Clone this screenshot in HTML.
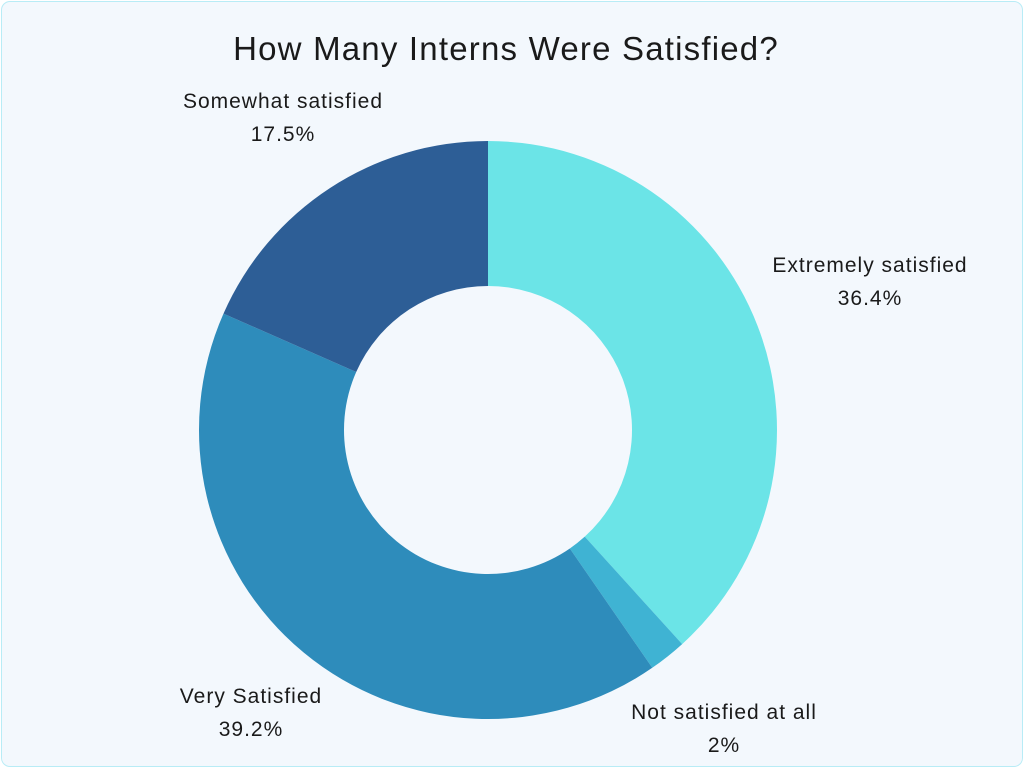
<!DOCTYPE html>
<html><head><meta charset="utf-8"><style>
html,body{margin:0;padding:0;background:#fff}
#card{position:absolute;left:1px;top:1px;width:1020px;height:764px;border:1px solid #b8ecf6;border-radius:9px;background:#f3f8fd;overflow:hidden}
svg{position:absolute;left:0;top:0}
text{font-family:"Liberation Sans",sans-serif;fill:#1a1a1a}
</style></head><body>
<div id="card"></div>
<svg id="chart" width="1024" height="768">
<text x="506" y="60" font-size="33" letter-spacing="1.2" text-anchor="middle">How Many Interns Were Satisfied?</text>
<g id="slices"></g><g id="labels"></g>
</svg>
<script>
const categories=["Extremely satisfied","Not satisfied at all","Very Satisfied","Somewhat satisfied"];
const values=[36.4,2,39.2,17.5];
const valueLabels=["36.4%","2%","39.2%","17.5%"];
const colors=["#6be4e7","#3fb3d3","#2e8cbb","#2d5e96"];
const labelPos=[[870,264],[724,711],[251,695],[283,100]];
const cx=488,cy=430,R=289,r=144;
const ns="http://www.w3.org/2000/svg";
const total=values.reduce((a,b)=>a+b,0);
function pt(a,rad){return [cx+rad*Math.sin(a),cy-rad*Math.cos(a)];}
let acc=0;
const gs=document.getElementById('slices'),gl=document.getElementById('labels');
values.forEach((v,i)=>{
  const a0=acc/total*2*Math.PI;acc+=v;const a1=acc/total*2*Math.PI;
  const big=(a1-a0)>Math.PI?1:0;
  const p1=pt(a0,R),p2=pt(a1,R),p3=pt(a1,r),p4=pt(a0,r);
  const p=document.createElementNS(ns,'path');
  p.setAttribute('d',`M${p1[0]},${p1[1]}A${R},${R} 0 ${big} 1 ${p2[0]},${p2[1]}L${p3[0]},${p3[1]}A${r},${r} 0 ${big} 0 ${p4[0]},${p4[1]}Z`);
  p.setAttribute('fill',colors[i]);
  
  
  gs.appendChild(p);
  const t=document.createElementNS(ns,'text');
  t.setAttribute('x',labelPos[i][0]);t.setAttribute('y',labelPos[i][1]+8);
  t.setAttribute('font-size','21');t.setAttribute('letter-spacing','1');t.setAttribute('text-anchor','middle');
  t.textContent=categories[i];
  
  
  gl.appendChild(t);
  const t2=document.createElementNS(ns,'text');
  t2.setAttribute('x',labelPos[i][0]);t2.setAttribute('y',labelPos[i][1]+41);
  t2.setAttribute('font-size','21');t2.setAttribute('letter-spacing','1');t2.setAttribute('text-anchor','middle');
  t2.textContent=valueLabels[i];
  
  
  gl.appendChild(t2);
});
</script>
</body></html>
